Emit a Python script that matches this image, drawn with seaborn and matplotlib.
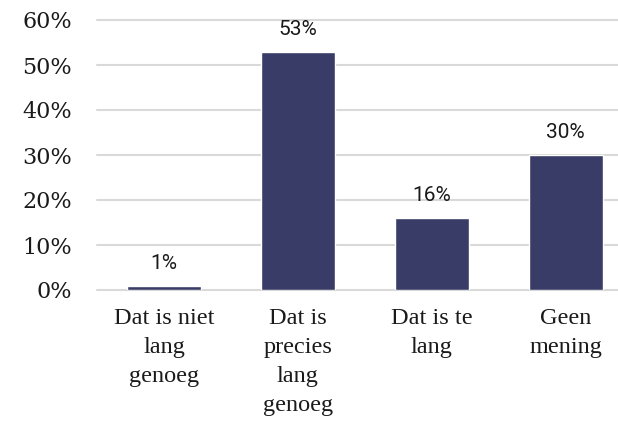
import matplotlib
matplotlib.use("Agg")
import matplotlib.pyplot as plt
import seaborn as sns
import pandas as pd

categories = ["Dat is niet\nlang\ngenoeg", "Dat is\nprecies\nlang\ngenoeg", "Dat is te\nlang", "Geen\nmening"]
values = [1, 53, 16, 30]
value_labels = ["1%", "53%", "16%", "30%"]
yticks = [0, 10, 20, 30, 40, 50, 60]
ytick_labels = ["0%", "10%", "20%", "30%", "40%", "50%", "60%"]

sns.set_theme(style="white")
df = pd.DataFrame({"cat": categories, "val": values})

fig = plt.figure(figsize=(6.18, 4.25), dpi=100)
ax = fig.add_axes([97/618, 1-290/425, 1-97/618, 270/425])
sns.barplot(data=df, x="cat", y="val", color="#393c66", width=0.55, saturation=1, ax=ax)

ax.set_ylim(0, 60)
ax.set_xlim(-0.5, 3.39)
ax.set_yticks(yticks)
ax.set_yticklabels(ytick_labels, family="DejaVu Serif", fontsize=16, color="#1a1a1a")
ax.set_xticks(range(len(categories)))
ax.set_xticklabels(categories, family="Liberation Serif", fontsize=17.5, color="#1a1a1a", linespacing=1.5)
ax.tick_params(axis="y", length=0, pad=18)
ax.tick_params(axis="x", length=0, pad=13)
ax.set_xlabel("")
ax.set_ylabel("")
ax.yaxis.grid(True, color="#d9d9d9", linewidth=1.5)
for gl in ax.get_ygridlines():
    gl.set_clip_on(False)
ax.set_axisbelow(True)
for s in ax.spines.values():
    s.set_visible(False)

for p, lab in zip(ax.patches, value_labels):
    ax.annotate(lab, (p.get_x() + p.get_width()/2, p.get_height()),
                xytext=(0, 12), textcoords="offset points", ha="center", va="baseline",
                family="Roboto", fontsize=15, color="#1a1a1a")

fig.savefig("out.png", dpi=100)
